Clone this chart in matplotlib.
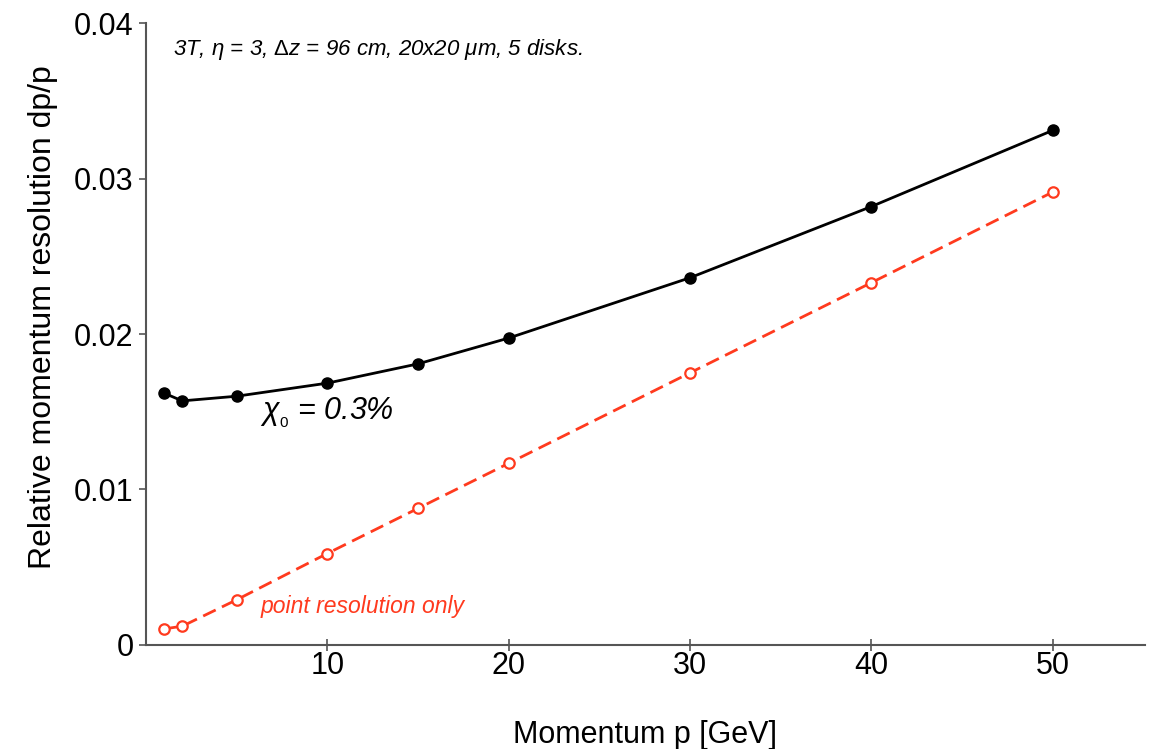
import matplotlib
matplotlib.use("Agg")
import matplotlib.pyplot as plt

plt.rcParams['font.family'] = ['Liberation Sans', 'DejaVu Sans']
plt.rcParams['mathtext.fontset'] = 'custom'
plt.rcParams['mathtext.it'] = 'Liberation Sans:italic'
plt.rcParams['mathtext.rm'] = 'Liberation Sans'

momentum = [1, 2, 5, 10, 15, 20, 30, 40, 50]
res_total = [0.0162, 0.0157, 0.0160, 0.01684, 0.01808, 0.01974, 0.02362, 0.02820, 0.0331]
res_point = [0.00103, 0.0012, 0.0029, 0.00588, 0.00878, 0.01168, 0.01750, 0.02330, 0.02913]
xticks = [10, 20, 30, 40, 50]
yticks = [0, 0.01, 0.02, 0.03, 0.04]
ytick_labels = ['0', '0.01', '0.02', '0.03', '0.04']

red = '#ff3a1e'

fig = plt.figure(figsize=(11.49, 7.49), dpi=100)
ax = fig.add_axes([0.127, 0.139, 0.8695, 0.830])

ax.plot(momentum, res_total, color='black', lw=2, marker='o', ms=8,
        markerfacecolor='black', markeredgecolor='black', zorder=3)
ax.plot(momentum, res_point, color=red, lw=2, linestyle=(0, (5, 2.5)), marker='o', ms=7.5,
        markerfacecolor='white', markeredgecolor=red, markeredgewidth=1.6, zorder=3)

ax.set_xlim(0, 55.1)
ax.set_ylim(0, 0.04)
ax.set_xticks(xticks)
ax.set_yticks(yticks)
ax.set_yticklabels(ytick_labels)

for s in ['top', 'right']:
    ax.spines[s].set_visible(False)
for s in ['left', 'bottom']:
    ax.spines[s].set_color('#555555')
    ax.spines[s].set_linewidth(1.5)

ax.tick_params(axis='x', direction='inout', length=9, width=1.2, colors='#555555',
               labelcolor='black', labelsize=22, pad=0)
ax.tick_params(axis='y', direction='out', length=5, width=1.2, colors='#555555',
               labelcolor='black', labelsize=22, pad=4)

ax.set_xlabel('Momentum p [GeV]', fontsize=22)
ax.set_ylabel('Relative momentum resolution dp/p', fontsize=23)
ax.xaxis.set_label_coords(0.5, -0.121)
ax.yaxis.set_label_coords(-0.088, 0.527)

ax.text(1.5, 0.03828, r'3T, $\eta$ = 3, $\Delta$z = 96 cm, 20x20 $\mu$m, 5 disks.',
        fontsize=16, style='italic', va='center', ha='left')
ax.text(6.3, 0.0145, r'$\chi_{_0}$ = 0.3%', fontsize=22, style='italic',
        va='baseline', ha='left')
ax.text(6.35, 0.0025, 'point resolution only', fontsize=16.5, style='italic',
        color=red, va='center', ha='left')

fig.savefig('out.png', dpi=100)
